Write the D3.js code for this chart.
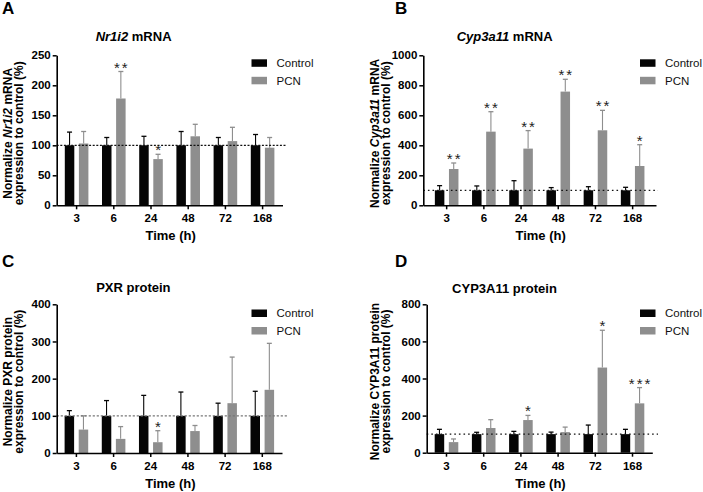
<!DOCTYPE html>
<html><head><meta charset="utf-8">
<script src="https://cdn.jsdelivr.net/npm/d3@7"></script>
<style>
html,body{margin:0;padding:0;background:#fff;}
svg{display:block;font-family:"Liberation Sans",Arial,sans-serif;}
</style></head>
<body>
<svg id="chart" width="703" height="492"></svg>
<script>
// ---- data ----
const timepoints = ["3","6","24","48","72","168"];
const seriesNames = ["Control","PCN"];

// Panel A: Nr1i2 mRNA
const nr1i2Control    = [100,100,100,100,100,100];
const nr1i2ControlErr = [122,113,115,123,113,118];
const nr1i2PCN        = [103,178,77,115,107,96];
const nr1i2PCNErr     = [123,223,85,135,130,113];
const nr1i2Sig        = ["","**","*","","",""];
const nr1i2Ticks      = [0,50,100,150,200,250];

// Panel B: Cyp3a11 mRNA
const cypmControl    = [100,100,100,100,100,100];
const cypmControlErr = [131,129,164,118,124,120];
const cypmPCN        = [242,491,378,758,500,262];
const cypmPCNErr     = [282,624,498,840,633,404];
const cypmSig        = ["**","**","**","**","**","*"];
const cypmTicks      = [0,200,400,600,800,1000];

// Panel C: PXR protein
const pxrControl    = [100,100,100,100,100,100];
const pxrControlErr = [114,141,155,164,134,166];
const pxrPCN        = [63,38,29,59,134,170];
const pxrPCNErr     = [100,71,60,74,258,295];
const pxrSig        = ["","","*","","",""];
const pxrTicks      = [0,100,200,300,400];

// Panel D: CYP3A11 protein
const cyppControl    = [100,100,100,100,100,100];
const cyppControlErr = [126,110,115,111,149,126];
const cyppPCN        = [57,133,176,111,459,266];
const cyppPCNErr     = [74,178,201,138,660,351];
const cyppSig        = ["","","*","","*","***"];
const cyppTicks      = [0,200,400,600,800];

const colors = {Control:"#050505", PCN:"#8e8e8e"};

const svg = d3.select("#chart");

function panel(cfg){
  const g = svg.append("g");
  const x = d3.scaleBand().domain(timepoints).range([cfg.x0,cfg.x1]).paddingInner(0).paddingOuter(cfg.pOuter);
  const y = d3.scaleLinear().domain([0,cfg.ticks[cfg.ticks.length-1]]).range([cfg.y0,cfg.y1]);
  const bw = 9.5, off = 2.3;
  const xs = {Control: c => x(c)+x.bandwidth()/2 - off - bw, PCN: c => x(c)+x.bandwidth()/2 + off};
  const vals = {Control: cfg.control, PCN: cfg.pcn};
  const errs = {Control: cfg.controlErr, PCN: cfg.pcnErr};

  // panel letter
  g.append("text").attr("x",cfg.letterX).attr("y",cfg.letterY).attr("font-size",17).attr("font-weight","bold").text(cfg.letter);

  // title
  const t = g.append("text").attr("x",(cfg.x0+cfg.x1)/2 - 36 + cfg.titleDx).attr("y",cfg.titleY)
    .attr("text-anchor","middle").attr("font-size",13).attr("font-weight","bold");
  cfg.title.forEach(p => t.append("tspan").attr("font-style",p.i?"italic":"normal").text(p.t));

  // bars + errors
  seriesNames.forEach(s=>{
    timepoints.forEach((c,i)=>{
      const bx = xs[s](c);
      const cx = bx + bw/2;
      g.append("line").attr("x1",cx).attr("x2",cx).attr("y1",y(vals[s][i])).attr("y2",y(errs[s][i]))
        .attr("stroke",colors[s]).attr("stroke-width",1.1);
      g.append("line").attr("x1",cx-2.5).attr("x2",cx+2.5).attr("y1",y(errs[s][i])).attr("y2",y(errs[s][i]))
        .attr("stroke",colors[s]).attr("stroke-width",1.3);
      g.append("rect").attr("x",bx).attr("y",y(vals[s][i])).attr("width",bw)
        .attr("height",y(0)-y(vals[s][i])).attr("fill",colors[s]);
    });
  });

  // significance
  timepoints.forEach((c,i)=>{
    if(!cfg.sig[i]) return;
    g.append("text").attr("x",xs.PCN(c)+bw/2+1).attr("y",y(cfg.pcnErr[i])+1)
      .attr("text-anchor","middle").attr("font-size",15).attr("fill","#222")
      .attr("letter-spacing",2).text(cfg.sig[i]);
  });

  // reference line at 100
  g.append("line").attr("x1",cfg.x0).attr("x2",cfg.dotEnd).attr("y1",y(100)).attr("y2",y(100))
    .attr("stroke",cfg.dotColor).attr("stroke-width",1.2).attr("stroke-dasharray",cfg.dash);

  // axes
  const ya = g.append("g").attr("transform",`translate(${cfg.x0},0)`)
    .call(d3.axisLeft(y).tickValues(cfg.ticks).tickFormat(d3.format("d")).tickSize(4).tickSizeOuter(0).tickPadding(2));
  ya.select(".domain").attr("stroke","#000").attr("stroke-width",1.6);
  ya.selectAll(".tick line").attr("stroke","#000").attr("stroke-width",1.5);
  ya.selectAll(".tick text").attr("font-size",11.5).attr("font-weight","bold").attr("fill","#000")
    .attr("font-family","Liberation Sans, Arial, sans-serif");

  const xa = g.append("g").attr("transform",`translate(0,${cfg.y0})`)
    .call(d3.axisBottom(x).tickSize(4).tickSizeOuter(0).tickPadding(5));
  xa.select(".domain").attr("stroke","#000").attr("stroke-width",1.6);
  xa.selectAll(".tick line").attr("stroke","#000").attr("stroke-width",1.5);
  xa.selectAll(".tick text").attr("font-size",11.5).attr("font-weight","bold").attr("fill","#000")
    .attr("font-family","Liberation Sans, Arial, sans-serif");

  // x label
  g.append("text").attr("x",(cfg.x0+cfg.x1)/2+1).attr("y",cfg.y0+35).attr("text-anchor","middle")
    .attr("font-size",13).attr("font-weight","bold").text("Time (h)");

  // y label (two lines, rotated)
  const cy = (cfg.y0+cfg.y1)/2 + 3;
  const l1 = g.append("text").attr("transform",`translate(${cfg.ylabX},${cy}) rotate(-90)`)
    .attr("text-anchor","middle").attr("font-size",12).attr("font-weight","bold");
  cfg.ylab.forEach(p => l1.append("tspan").attr("font-style",p.i?"italic":"normal").text(p.t));
  g.append("text").attr("transform",`translate(${cfg.ylabX+11},${cy}) rotate(-90)`)
    .attr("text-anchor","middle").attr("font-size",12).attr("font-weight","bold")
    .text("expression to control (%)");

  // legend
  seriesNames.forEach((s,k)=>{
    const ly = cfg.legY + k*17.5;
    g.append("rect").attr("x",cfg.legX).attr("y",ly).attr("width",15.5).attr("height",7.5).attr("fill",colors[s]);
    g.append("text").attr("x",cfg.legX+25).attr("y",ly+7.8).attr("font-size",11.5).attr("fill","#111").text(s);
  });
}

panel({letter:"A",letterX:2,letterY:14,title:[{t:"Nr1i2",i:true},{t:" mRNA"}],titleY:41,titleDx:0,
  x0:56.7,x1:282.5,pOuter:0.035,y0:205.3,y1:55.3,ticks:nr1i2Ticks,
  control:nr1i2Control,controlErr:nr1i2ControlErr,pcn:nr1i2PCN,pcnErr:nr1i2PCNErr,sig:nr1i2Sig,
  dotEnd:287,dotColor:"#111",dash:"2,1.6",ylabX:12,ylab:[{t:"Normalize "},{t:"Nr1i2",i:true},{t:" mRNA"}],
  legX:251.5,legY:59.3});

panel({letter:"B",letterX:395,letterY:14,title:[{t:"Cyp3a11",i:true},{t:" mRNA"}],titleY:41,titleDx:1,
  x0:423.3,x1:656,pOuter:0.128,y0:205.3,y1:55.3,ticks:cypmTicks,
  control:cypmControl,controlErr:cypmControlErr,pcn:cypmPCN,pcnErr:cypmPCNErr,sig:cypmSig,
  dotEnd:658,dotColor:"#111",dash:"1.6,3",ylabX:379,ylab:[{t:"Normalize "},{t:"Cyp3a11",i:true},{t:" mRNA"}],
  legX:640,legY:59.3});

panel({letter:"C",letterX:2,letterY:267,title:[{t:"PXR protein"}],titleY:292,titleDx:0,
  x0:56.7,x1:282,pOuter:0.03,y0:453,y1:304.3,ticks:pxrTicks,
  control:pxrControl,controlErr:pxrControlErr,pcn:pxrPCN,pcnErr:pxrPCNErr,sig:pxrSig,
  dotEnd:287,dotColor:"#777",dash:"2.2,1.8",ylabX:12,ylab:[{t:"Normalize PXR protein"}],
  legX:251.5,legY:309.5});

panel({letter:"D",letterX:395,letterY:267,title:[{t:"CYP3A11 protein"}],titleY:292.7,titleDx:1,
  x0:426.7,x1:652.3,pOuter:0.032,y0:452.7,y1:304.3,ticks:cyppTicks,
  control:cyppControl,controlErr:cyppControlErr,pcn:cyppPCN,pcnErr:cyppPCNErr,sig:cyppSig,
  dotEnd:658,dotColor:"#111",dash:"1.6,3",ylabX:379,ylab:[{t:"Normalize CYP3A11 protein"}],
  legX:640,legY:309.5});
</script>
</body></html>
